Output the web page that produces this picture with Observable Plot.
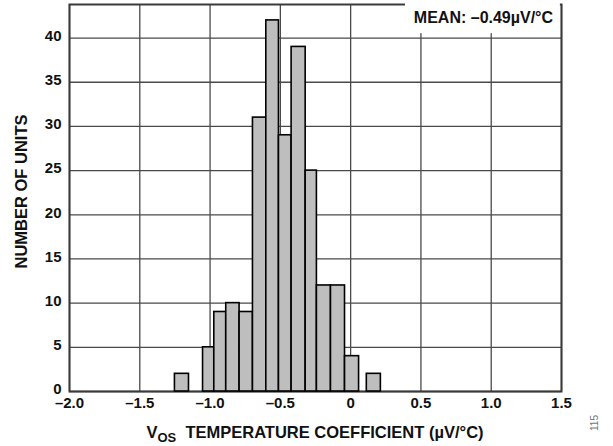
<!DOCTYPE html>
<html>
<head>
<meta charset="utf-8">
<script src="https://cdn.jsdelivr.net/npm/d3@7"></script>
<script src="https://cdn.jsdelivr.net/npm/@observablehq/plot@0.6"></script>
<style>
  html, body { margin: 0; padding: 0; background: #fff; }
</style>
</head>
<body>
<div id="chart"></div>
<script>
// Histogram bins (µV/°C) and counts
const binStart = [-1.25, -1.05, -0.97, -0.885, -0.79, -0.695, -0.60, -0.51, -0.42, -0.32, -0.24, -0.14, -0.04, 0.115];
const binEnd   = [-1.15, -0.97, -0.885, -0.79, -0.695, -0.60, -0.51, -0.42, -0.32, -0.24, -0.14, -0.04, 0.06, 0.215];
const counts   = [2, 5, 9, 10, 9, 31, 42, 29, 39, 25, 12, 12, 4, 2];

const xTicks = [-2.0, -1.5, -1.0, -0.5, 0, 0.5, 1.0, 1.5];
const xTickLabels = ["–2.0", "–1.5", "–1.0", "–0.5", "0", "0.5", "1.0", "1.5"];
const yTicks = [0, 5, 10, 15, 20, 25, 30, 35, 40];

const meanLabel = "MEAN: –0.49µV/°C";
const figureNumber = "115";

const bins = binStart.map((s, i) => ({x1: s, x2: binEnd[i], count: counts[i]}));

const FONT = "'Liberation Sans', Arial, Helvetica, sans-serif";
const W = 613, H = 446;
const mL = 69, mR = 52, mT = 4, mB = 55;

const chart = Plot.plot({
  width: W,
  height: H,
  marginLeft: mL,
  marginRight: mR,
  marginTop: mT,
  marginBottom: mB,
  style: {fontFamily: FONT, fontSize: "15px", fontWeight: "bold", color: "#111", background: "#fff"},
  x: {domain: [-2, 1.5], ticks: xTicks, tickFormat: d => xTickLabels[xTicks.indexOf(d)], tickSize: 0, tickPadding: 6, label: null},
  y: {domain: [0, 43.8], ticks: yTicks, tickSize: 0, tickPadding: 8, label: null},
  marks: [
    Plot.gridX(xTicks, {stroke: "#4a4a4a", strokeOpacity: 1, strokeWidth: 1.3}),
    Plot.gridY(yTicks, {stroke: "#4a4a4a", strokeOpacity: 1, strokeWidth: 1.3}),
    Plot.frame({stroke: "#3a3a3a", strokeWidth: 2}),
    Plot.rect([{x1: 0.39, x2: 1.492, y1: 40.5, y2: 44.3}], {x1: "x1", x2: "x2", y1: "y1", y2: "y2", fill: "#fff", stroke: "none"}),
    Plot.text([meanLabel], {x: 1.44, y: 42.3, text: d => d, textAnchor: "end", lineAnchor: "middle", fontSize: 16, fontWeight: "bold", fill: "#111"}),
    Plot.rect(bins, {x1: "x1", x2: "x2", y1: 0, y2: "count", fill: "#bebebe", stroke: "#000", strokeWidth: 1.6, inset: 0})
  ]
});

document.getElementById("chart").appendChild(chart);

const svg = d3.select(chart.tagName.toLowerCase() === "svg" ? chart : chart.querySelector("svg"));

// enforce tick label size (axes may set their own size)
svg.selectAll("text").style("font-size", "15px").style("font-weight", "bold");
svg.selectAll("g[aria-label='text'] text").style("font-size", "16px");

// y tick labels sit slightly above their gridlines in the reference
svg.selectAll("g[aria-label='y-axis tick label']").each(function () {
  const g = d3.select(this);
  g.attr("transform", ((g.attr("transform") || "") + " translate(0,-2)").trim());
});

// Axis titles (with subscript) and figure number
const plotCx = mL + (W - mL - mR) / 2;

const xt = svg.append("text")
  .attr("x", plotCx)
  .attr("y", 438)
  .attr("text-anchor", "middle")
  .style("font-family", FONT)
  .style("font-size", "16.5px")
  .style("font-weight", "bold")
  .attr("fill", "#111");
xt.append("tspan").text("V");
xt.append("tspan").attr("dy", 4).style("font-size", "13px").text("OS");
xt.append("tspan").attr("dy", -4).text("\u00a0 TEMPERATURE COEFFICIENT (µV/°C)");

svg.append("text")
  .attr("transform", `translate(27,${mT + (H - mT - mB) / 2 - 6}) rotate(-90)`)
  .attr("text-anchor", "middle")
  .style("font-family", FONT)
  .style("font-size", "16.5px")
  .style("font-weight", "bold")
  .attr("fill", "#111")
  .text("NUMBER OF UNITS");

svg.append("text")
  .attr("transform", "translate(598,423) rotate(-90)")
  .attr("text-anchor", "middle")
  .style("font-family", FONT)
  .style("font-size", "10px")
  .style("font-weight", "normal")
  .attr("fill", "#777")
  .text(figureNumber);
</script>
</body>
</html>
